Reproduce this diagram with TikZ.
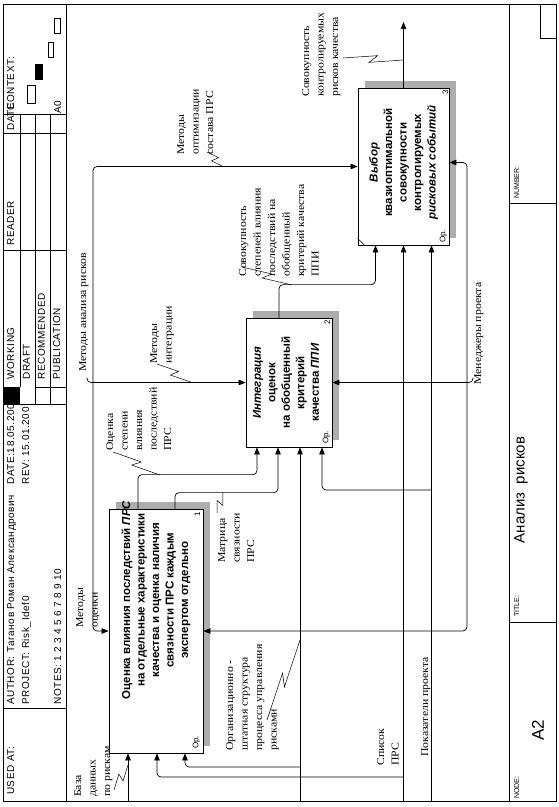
\documentclass[tikz,border=0pt]{standalone}
\usepackage{fontspec}
\setmainfont{Liberation Serif}
\newfontfamily\hdrfont[LetterSpace=6]{Liberation Sans}
\newfontfamily\boxfont{Liberation Sans}
\newfontfamily\lblfont[FakeStretch=1.12]{Liberation Serif}
\usetikzlibrary{arrows.meta,positioning,calc,shadows}
\definecolor{Ink}{HTML}{000000}
\definecolor{Shade}{HTML}{ADADAD}
\tikzset{
  frm/.style={draw=Ink,line width=0.8pt},
  cell/.style={draw=Ink,line width=0.6pt},
  hdr/.style={rotate=90,anchor=base west,inner sep=0pt,font=\hdrfont\fontsize{10}{11}\selectfont},
  foot/.style={rotate=90,anchor=base west,inner sep=0pt,font=\boxfont\fontsize{7}{8}\selectfont},
  func/.style={draw=Ink,fill=white,line width=0.8pt,inner sep=0pt,general shadow={fill=Shade,shadow xshift=7pt,shadow yshift=7pt}},
  ftext/.style={rotate=90,align=center,inner sep=0pt,font=\boxfont\bfseries\fontsize{11.5}{14.5}\selectfont},
  fnum/.style={rotate=90,inner sep=0pt,font=\boxfont\fontsize{8}{9}\selectfont},
  lbl/.style={rotate=90,align=left,anchor=north west,inner sep=0pt,font=\lblfont\fontsize{10.5}{14.5}\selectfont},
  arr/.style={-{Triangle[length=7pt,width=5.5pt]},draw=Ink,line width=0.7pt,rounded corners=4pt},
  lnk/.style={draw=Ink,line width=0.5pt}
}
% label squiggle
\newcommand{\bolt}[2]{\draw[lnk] (#1) -- ($(#1)!.57!(#2)!3.5pt!90:(#2)$) -- ($(#1)!.43!(#2)!3.5pt!-90:(#2)$) -- (#2);}

\begin{document}
\begin{tikzpicture}[x=1pt,y=-1pt]
  \useasboundingbox (0,0) rectangle (558,807);
  \fill[white] (0,0) rectangle (558,807);

  % frame, header and footer
  \draw[frm] (3,4) rectangle (556,801);
  \draw[cell] (66,4) -- (66,801);
  \draw[cell] (509,4) -- (509,801);
  \foreach \y in {114,133,250,387,404,708}
    \draw[cell] (3,\y) -- (66,\y);
  \foreach \x in {20,35,50}
    \draw[cell] (\x,114) -- (\x,404);
  \draw[cell] (509,203) -- (556,203);
  \draw[cell] (509,622) -- (556,622);
  \draw[cell] (540,4) -- (540,38) -- (556,38);

  \node[hdr] (hUsed) at (14,795) {USED AT:};
  \node[hdr] (hAuth) at (14,705) {AUTHOR: Таганов Роман Александрович};
  \node[hdr] (hProj) at (29,705) {PROJECT: Risk\_Idef0};
  \node[hdr] (hNotes) at (61,705) {NOTES: 1 2 3 4 5 6 7 8 9 10};
  \node[hdr] (hDate) at (14,485) {DATE:18.05.2007};
  \node[hdr] (hRev) at (29,485) {REV: 15.01.2007};
  \node[hdr] (hWork) at (14,380) {WORKING};
  \node[hdr] (hDraft) at (30,380) {DRAFT};
  \node[hdr] (hRec) at (45,380) {RECOMMENDED};
  \node[hdr] (hPub) at (60,380) {PUBLICATION};
  \node[hdr] (hRead) at (14,246) {READER};
  \node[hdr] (hDt) at (14,131) {DATE};
  \node[hdr] (hCtx) at (14,111) {CONTEXT:};
  \node[hdr] (hA0) at (61,114) {A0};
  \fill[Ink] (3,387) rectangle (20,404);
  \fill[white] (20.4,387.4) rectangle (34.6,403.6);
  \draw[cell] (27,85) rectangle (35,103);
  \fill[Ink] (35,64) rectangle (43,80);
  \draw[cell] (48,42) rectangle (53,57);
  \draw[cell] (54,18) rectangle (60,33);

  \node[foot] (fNode) at (519,799) {NODE:};
  \node[foot] (fTitle) at (519,617) {TITLE:};
  \node[foot] (fNum) at (519,199) {NUMBER:};
  \node[rotate=90,font=\boxfont\fontsize{17}{18}\selectfont] (fA2) at (538,730) {A2};
  \node[rotate=90,font=\boxfont\fontsize{15}{16}\selectfont] (fTtl) at (521,490) {Анализ\ \ рисков};

  % activities
  \node[func,minimum width=94pt,minimum height=244pt] (b1) at (156,631) {};
  \node[func,minimum width=86pt,minimum height=129pt] (b2) at (289,382.5) {};
  \node[func,minimum width=91pt,minimum height=157pt] (b3) at (403.5,166.5) {};
  \node[ftext] (t1) at ($(b1.center)+(0,-31)$) {Оценка влияния последствий \textit{ПРС}\\на отдельные характеристики\\качества и оценка наличия\\связности ПРС каждым\\экспертом отдельно};
  \node[ftext] (t2) at ($(b2.center)+(-3,0)$) {\textit{Интеграция}\\оценок\\на обобщенный\\критерий\\качества \textit{ППИ}};
  \node[ftext] (t3) at ($(b3.center)+(0,-4)$) {\textit{Выбор}\\квазиоптимальной\\совокупности\\контролируемых\\\textit{рисковых событий}};
  \node[fnum] (n1) at ($(b1.north east)+(-6,6)$) {1};
  \node[fnum] (p1) at ($(b1.south east)+(-7,-11)$) {Ор.};
  \node[fnum] (n2) at ($(b2.north east)+(-5,5)$) {2};
  \node[fnum] (p2) at ($(b2.south east)+(-6,-10)$) {Ор.};
  \node[fnum] (n3) at ($(b3.north east)+(-4,5)$) {3};
  \node[fnum] (p3) at ($(b3.south east)+(-6,-9)$) {Ор.};
  \draw[cell] ($(b3.south west)+(0,-7)$) -- ($(b3.south west)+(7,0)$);

  % ports
  \coordinate (i11) at ($(b1.south)+(-28,0)$);
  \coordinate (i12) at ($(b1.south)+(1,0)$);
  \coordinate (i13) at ($(b1.south)+(29,0)$);
  \coordinate (o11) at ($(b1.north)+(-18,0)$);
  \coordinate (o12) at ($(b1.north)+(19,0)$);
  \coordinate (i21) at ($(b2.south)+(-32,0)$);
  \coordinate (i22) at ($(b2.south)+(-11,0)$);
  \coordinate (i23) at ($(b2.south)+(11,0)$);
  \coordinate (i24) at ($(b2.south)+(33,0)$);
  \coordinate (o21) at ($(b2.north)+(-10,0)$);
  \coordinate (i31) at ($(b3.south)+(-28,0)$);
  \coordinate (i32) at (b3.south);
  \coordinate (i33) at ($(b3.south)+(28,0)$);
  \coordinate (m3) at ($(b3.east)+(0,-4)$);

  % boundary ends and branch points
  \coordinate (sAn) at (87,382.5);
  \coordinate (jAn) at (93,382.5);
  \coordinate (sMg) at (473,382.5);
  \coordinate (jMg) at (467,382.5);
  \coordinate (sDb) at (128,801);
  \coordinate (sOrg) at (300,801);
  \coordinate (jOrg) at (300,767);
  \coordinate (sLst) at (403.5,801);
  \coordinate (jLst) at (403.5,777);
  \coordinate (sInd) at (431.5,801);
  \coordinate (jInd) at (431.5,490);
  \coordinate (out) at (403.5,22);

  % controls
  \draw[arr] ($(sAn)+(0,-5)$) -- (sAn) -- (b2.west);
  \draw[arr] (jAn) |- (b3.west);
  \draw[arr] (jAn) |- (b1.west);
  % mechanisms
  \draw[arr] ($(sMg)+(0,-5)$) -- (sMg) -- (b2.east);
  \draw[arr] (jMg) |- (m3);
  \draw[arr] (jMg) |- (b1.east);
  % inputs
  \draw[arr] (sDb) -- (i11);
  \draw[arr] (sOrg) -- (i23);
  \draw[arr] (jOrg) -| (i13);
  \draw[arr] (sLst) -- (i32);
  \draw[arr] (jLst) -| (i12);
  \draw[arr] (sInd) -- (i33);
  \draw[arr] (jInd) -| (i24);
  % outputs
  \draw[arr] (o11) -- ++(0,-34) -| (i21);
  \draw[arr] (o12) -- ++(0,-16) -| (i22);
  \draw[arr] (o21) -- ++(0,-33) -| (i31);
  \draw[arr] (b3.north) -- (out);

  % labels
  \node[lbl] (lDb) at (74,797) {База\\данных\\по рискам};
  \node[lbl] (lMo) at (76,628) {Методы\\оценки};
  \node[lbl] (lAn) at (79,372) {Методы анализа рисков};
  \node[lbl] (lMi) at (150,364) {Методы\\интеграции};
  \node[lbl] (lOs) at (106,451) {Оценка\\степени\\влияния\\последствий\\ПРС};
  \node[lbl] (lMs) at (218,563) {Матрица\\связности\\ПРС};
  \node[lbl] (lOrg) at (226,751) {Организационно -\\штатная структура\\процесса управления\\рисками};
  \node[lbl] (lOpt) at (177,155) {Методы\\оптимизации\\состава ПРС};
  \node[lbl] (lSs) at (239,277) {Совокупность\\степеней влияния\\последствий на\\обобщенный\\критерий качества\\ППИ};
  \node[lbl] (lSk) at (302,97) {Совокупность\\контролируемых\\рисков качества};
  \node[lbl] (lMg) at (474,385) {Менеджеры проекта};
  \node[lbl] (lLst) at (377,766) {Список\\ПРС};
  \node[lbl] (lInd) at (421,757) {Показатели проекта};

  % label squiggles
  \coordinate (zDb) at (114,790);   \coordinate (aDb) at (128,765);
  \coordinate (zMi) at (157,364);   \coordinate (aMi) at (192,382.5);
  \coordinate (zOs) at (113,452);   \coordinate (aOs) at (160,475);
  \coordinate (zMs) at (217,513);   \coordinate (aMs) at (223,493);
  \coordinate (zOrg) at (267,720);  \coordinate (aOrg) at (300,640);
  \coordinate (zOpt) at (207,152);  \coordinate (aOpt) at (223,166.5);
  \coordinate (zSs) at (242,267);   \coordinate (aSs) at (292,285);
  \coordinate (zSk) at (343,58);    \coordinate (aSk) at (403.5,60);
  \bolt{zDb}{aDb}
  \bolt{zMi}{aMi}
  \bolt{zOs}{aOs}
  \bolt{zMs}{aMs}
  \bolt{zOrg}{aOrg}
  \bolt{zOpt}{aOpt}
  \bolt{zSs}{aSs}
  \bolt{zSk}{aSk}
\end{tikzpicture}
\end{document}
